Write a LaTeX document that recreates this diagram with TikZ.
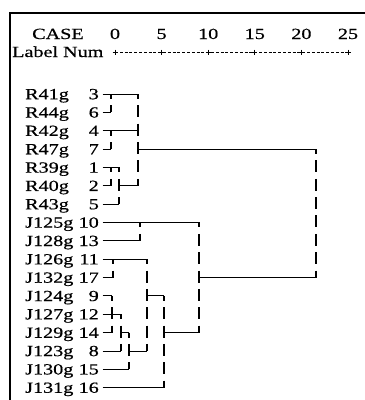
\documentclass[tikz,border=0pt]{standalone}
\usepackage{fontspec}
\setmainfont{Liberation Serif}[FakeStretch=1.3, FakeBold=0.6]
\usetikzlibrary{calc}

% row y position (rows run downwards, 18.35pt apart)
\newcommand\rowpos[1]{94+18.35*#1}
% one joining column: name, x, first row, output row, last row
\newcommand\joinrows[5]{%
  \coordinate (#1) at (#2,{\rowpos{#4}});
  \coordinate (#1t) at (#2,{\rowpos{#3}});
  \coordinate (#1b) at (#2,{\rowpos{#5}});
  \draw[vline] (#1t) -- (#1b);}

\tikzset{
  txt/.style={inner sep=0pt, font=\fontsize{15.5}{18}\selectfont},
  lbl/.style={txt, anchor=west, text height=10.4pt, text depth=0pt},
  num/.style={lbl, anchor=east},
  hline/.style={line width=0.8pt},
  vline/.style={line width=1.1pt, dash pattern=on 12pt off 6.35pt, dash phase=7pt},
  tickrule/.style={line width=0.6pt, dash pattern=on 3pt off 1.8pt},
  tickmark/.style={line width=0.8pt},
}

\begin{document}
\begin{tikzpicture}[x=1pt,y=-1pt]
\useasboundingbox (0,0) rectangle (365,400);

% frame
\draw[line width=1.2pt] (10,400) -- (10,13) -- (365,13);

% header
\node[txt, anchor=base west] (case) at (32,39) {CASE};
\node[txt, anchor=base west] (labnum) at (12,57) {Label Num};
\foreach \v [count=\j from 0] in {0,5,10,15,20,25} {
  \coordinate (t\j) at ({115+46.6*\j},52);
  \node[txt, anchor=base] (s\j) at ({115+46.6*\j},39) {\v};
}
\draw[tickrule] (t0) -- (t5);
\foreach \j in {0,...,5} {
  \draw[tickmark] ($(t\j)+(-2.5,0)$) -- ($(t\j)+(2.5,0)$);
  \draw[tickmark] ($(t\j)+(0,-2.5)$) -- ($(t\j)+(0,2.5)$);
}

% case labels and numbers
\foreach \nm/\k/\i in {R41g/3/0, R44g/6/1, R42g/4/2, R47g/7/3, R39g/1/4,
    R40g/2/5, R43g/5/6, J125g/10/7, J128g/13/8, J126g/11/9, J132g/17/10,
    J124g/9/11, J127g/12/12, J129g/14/13, J123g/8/14, J130g/15/15,
    J131g/16/16} {
  \node[lbl] (n\k) at (25,{\rowpos{\i}}) {\nm};
  \node[num] (c\k) at (99,{\rowpos{\i}}) {\k};
}

% joining columns
\joinrows{ra}{111}{0}{0}{1}
\joinrows{rb}{111}{2}{2}{3}
\joinrows{rc}{111}{4}{4}{5}
\joinrows{rd}{119}{4}{5}{6}
\joinrows{re}{138}{0}{3}{5}
\joinrows{ja}{140}{7}{7}{8}
\joinrows{jb}{113}{9}{9}{10}
\joinrows{jc}{112}{11}{12}{13}
\joinrows{jd}{121}{12}{13}{14}
\joinrows{je}{129}{13}{14}{15}
\joinrows{jf}{147}{9}{11}{14}
\joinrows{jg}{164}{11}{13}{16}
\joinrows{jh}{199}{7}{10}{13}
\joinrows{top}{316}{3}{6}{10}

% case lines into their first join
\foreach \k/\m in {3/ra, 6/ra, 4/rb, 7/rb, 1/rc, 2/rc, 5/rd,
    10/ja, 13/ja, 11/jb, 17/jb, 9/jc, 12/jc, 14/jc, 8/jd, 15/je, 16/jg} {
  \draw[hline] ([xshift=3.5pt]c\k.east) -- (c\k.east -| \m);
}

% cluster lines into the next join
\foreach \a/\b in {ra/re, rb/re, rc/rd, rd/re, re/top,
    jc/jd, jd/je, je/jf, jb/jf, jf/jg, jg/jh, ja/jh, jh/top} {
  \draw[hline] (\a) -- (\a -| \b);
}
\end{tikzpicture}
\end{document}
